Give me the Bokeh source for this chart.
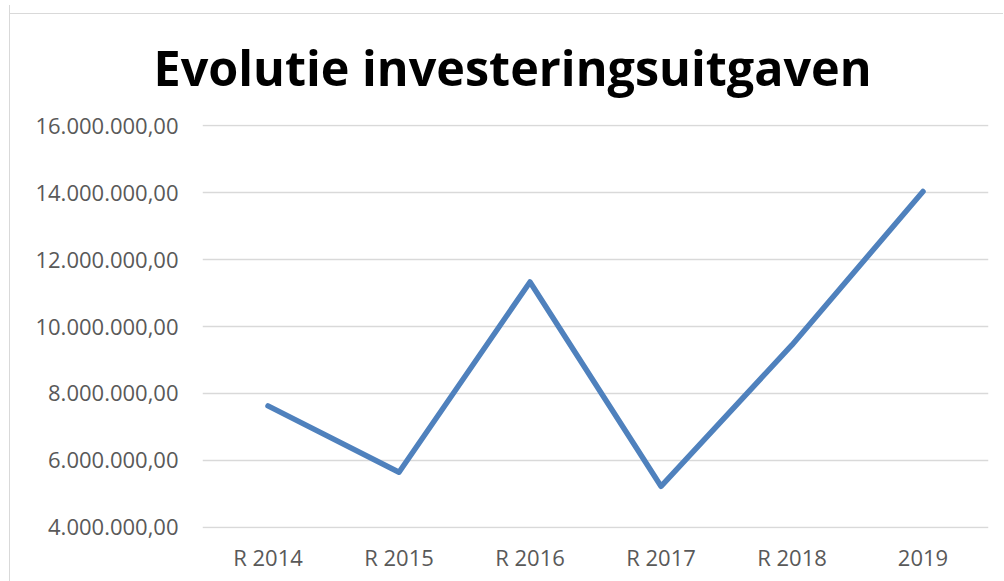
from bokeh.plotting import figure
from bokeh.models import FactorRange, Range1d, FixedTicker, Title
from bokeh.embed import file_html
from bokeh.resources import INLINE

# ---- data ----
categories = ["R 2014", "R 2015", "R 2016", "R 2017", "R 2018", "2019"]
values = [7630000, 5650000, 11330000, 5230000, 9450000, 14030000]
y_ticks = [4000000, 6000000, 8000000, 10000000, 12000000, 14000000, 16000000]
y_tick_labels = ["4.000.000,00", "6.000.000,00", "8.000.000,00", "10.000.000,00",
                 "12.000.000,00", "14.000.000,00", "16.000.000,00"]
title_text = "Evolutie investeringsuitgaven"

FONT = "Open Sans"

p = figure(width=994, height=576, output_backend="svg", toolbar_location=None,
           x_range=FactorRange(factors=categories, range_padding=0),
           y_range=Range1d(3970000, 16030000),
           min_border_left=192, min_border_right=16, min_border_top=119,
           min_border_bottom=53)
p.styles = {"margin-left": "9px", "margin-top": "5px",
            "border-left": "1px solid #d9d9d9",
            "background": "linear-gradient(#d9d9d9, #d9d9d9) 0px 8px / 100% 1px no-repeat, #ffffff"}

p.line(x=categories, y=values, line_color="#4f81bd", line_width=5.5,
       line_join="round", line_cap="round")

t = Title(text=title_text, align="left", offset=-49, text_font=FONT,
          text_font_size="48.5px", text_font_style="bold", text_color="#000000",
          standoff=49)
p.add_layout(t, "above")

p.outline_line_color = None
p.background_fill_color = "white"
p.border_fill_color = "white"
p.border_fill_alpha = 0

p.xgrid.grid_line_color = None
p.ygrid.grid_line_color = "#d9d9d9"
p.ygrid.grid_line_width = 1.5

p.yaxis.ticker = FixedTicker(ticks=y_ticks)
p.yaxis.major_label_overrides = {t_: l for t_, l in zip(y_ticks, y_tick_labels)}
p.yaxis.axis_line_color = None
p.yaxis.major_tick_line_color = None
p.yaxis.minor_tick_line_color = None
p.yaxis.major_label_standoff = 18
p.yaxis.major_label_text_font = FONT
p.yaxis.major_label_text_font_size = "22px"
p.yaxis.major_label_text_color = "#595959"

p.xaxis.axis_line_color = None
p.xaxis.major_tick_line_color = None
p.xaxis.minor_tick_line_color = None
p.xaxis.major_label_standoff = 7
p.xaxis.major_label_text_font = FONT
p.xaxis.major_label_text_font_size = "22px"
p.xaxis.major_label_text_color = "#595959"

open("out.html", "w").write(file_html(p, INLINE))
